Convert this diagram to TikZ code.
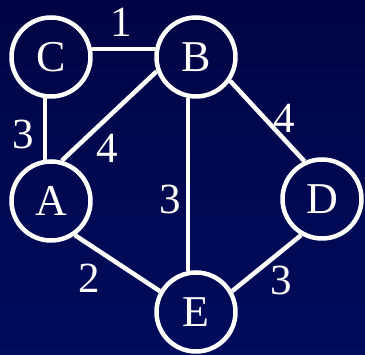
\documentclass[tikz,border=0pt]{standalone}
\usepackage{fontspec}
\setmainfont{Liberation Serif}
\definecolor{bgtop}{RGB}{0,4,68}
\definecolor{bgbot}{RGB}{0,12,92}
\begin{document}
\begin{tikzpicture}[x=1pt,y=-1pt,line cap=round,line join=round,
  vert/.style={circle,draw=white,line width=4.5pt,minimum size=79pt,inner sep=0pt,
    text=white,font=\fontsize{44}{44}\selectfont},
  edge/.style={white,line width=4.5pt,line cap=butt},
  wt/.style={text=white,font=\fontsize{43}{43}\selectfont}]

% background
\shade[top color=bgtop,bottom color=bgbot] (0,0) rectangle (365,355);
\useasboundingbox (0,0) rectangle (365,355);

% vertices
\node[vert] (C) at (51,57) {C};
\node[vert] (B) at (196,57) {B};
\node[vert] (A) at (51,201) {A};
\node[vert] (D) at (322,199) {D};
\node[vert] (E) at (196,312) {E};

% edges
\draw[edge] (C.11) -- (B.169);
\draw[edge] (C.-98) -- (A.98);
\draw[edge] (A.75) -- (B.200);
\draw[edge] (B.-101) -- (E.101);
\draw[edge] (B.-35) -- (D.115);
\draw[edge] (A.-55) -- (E.150);
\draw[edge] (E.30) -- (D.-120);

% weights
\node[wt] (wCB) at (121,22) {1};
\node[wt] (wCA) at (23,134) {3};
\node[wt] (wAB) at (107,148) {4};
\node[wt] (wBE) at (170,199) {3};
\node[wt] (wBD) at (284,118) {4};
\node[wt] (wAE) at (89,278) {2};
\node[wt] (wED) at (281,280) {3};

\end{tikzpicture}
\end{document}
